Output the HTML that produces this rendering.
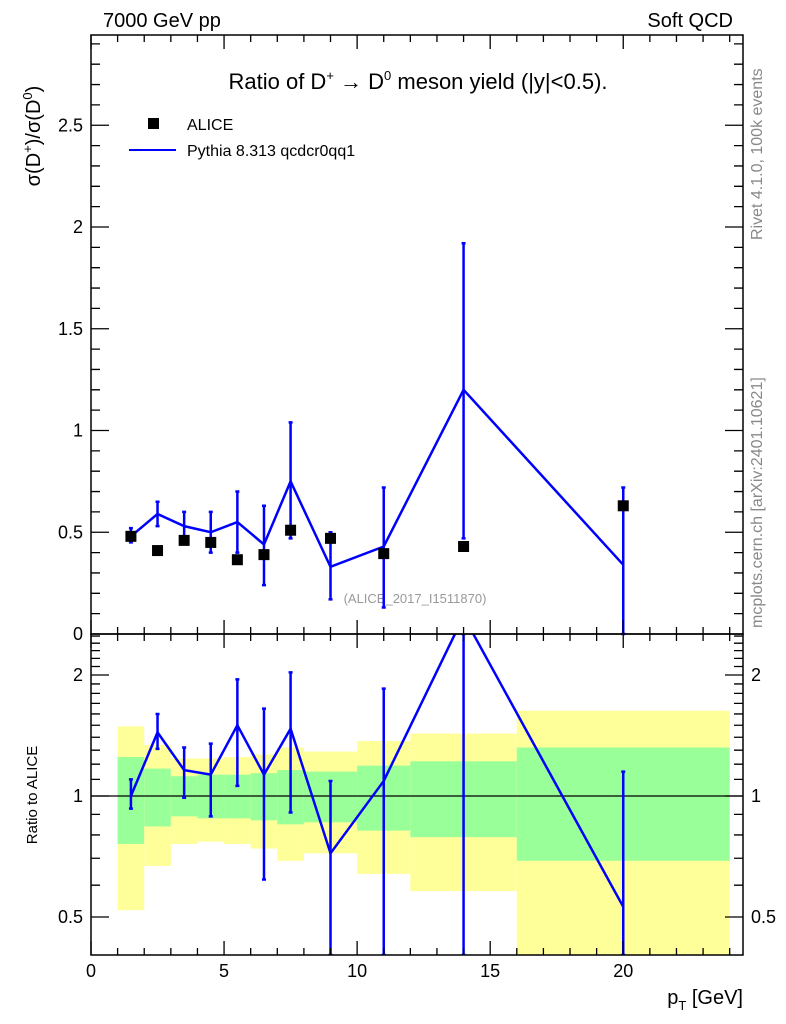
<!DOCTYPE html>
<html><head><meta charset="utf-8"><style>
body{margin:0;background:#fff;}
svg{display:block;font-family:"Liberation Sans",sans-serif;}
</style></head><body>
<svg id="c" width="786" height="1024" viewBox="0 0 786 1024">
<text x="103" y="27" font-size="20">7000 GeV pp</text>
<text x="733" y="27" font-size="20" text-anchor="end">Soft QCD</text>
<text x="418" y="89" font-size="22" text-anchor="middle">Ratio of D<tspan font-size="13" dy="-9">+</tspan><tspan dy="9"> → D</tspan><tspan font-size="13" dy="-9">0</tspan><tspan dy="9"> meson yield (|y|&lt;0.5).</tspan></text>
<g>
<rect x="148" y="118" width="11" height="11" fill="#000"/>
<text x="187" y="130" font-size="16">ALICE</text>
<line x1="129" y1="150" x2="176" y2="150" stroke="#00f" stroke-width="2"/>
<text x="187" y="156" font-size="16">Pythia 8.313 qcdcr0qq1</text>
</g>
<text x="415" y="603" font-size="13" fill="#999" text-anchor="middle">(ALICE_2017_I1511870)</text>
<text transform="translate(40,136) rotate(-90)" font-size="20" text-anchor="middle">σ(D<tspan font-size="13" dy="-8">+</tspan><tspan dy="8">)/σ(D</tspan><tspan font-size="13" dy="-8">0</tspan><tspan dy="8">)</tspan></text>
<text transform="translate(37,795) rotate(-90)" font-size="15" text-anchor="middle">Ratio to ALICE</text>
<text x="743" y="1004" font-size="20" text-anchor="end">p<tspan font-size="13" dy="6">T</tspan><tspan dy="-6"> [GeV]</tspan></text>
<text transform="translate(762,240) rotate(-90)" font-size="16" fill="#888">Rivet 4.1.0,  100k events</text>
<text transform="translate(762,628) rotate(-90)" font-size="16" fill="#888">mcplots.cern.ch [arXiv:2401.10621]</text>
<g id="bands"></g><g id="marks"></g><g id="axes"></g>
</svg>
<script>
const binEdges=[1,2,3,4,5,6,7,8,10,12,16,24];
const greenHi=[1.25,1.17,1.12,1.13,1.13,1.14,1.16,1.15,1.19,1.22,1.32];
const greenLo=[0.76,0.84,0.89,0.88,0.88,0.87,0.85,0.86,0.82,0.79,0.69];
const yellowHi=[1.49,1.34,1.24,1.24,1.25,1.27,1.32,1.29,1.37,1.43,1.63];
const yellowLo=[0.52,0.67,0.76,0.77,0.76,0.74,0.69,0.72,0.64,0.58,0.3];
const xPts=[1.5,2.5,3.5,4.5,5.5,6.5,7.5,9,11,14,20];
const aliceVal=[0.48,0.41,0.46,0.45,0.365,0.39,0.51,0.47,0.395,0.43,0.63];
const pyVal=[0.48,0.59,0.53,0.50,0.55,0.44,0.75,0.33,0.43,1.20,0.34];
const pyLo=[0.45,0.53,0.46,0.40,0.40,0.24,0.47,0.17,0.13,0.47,0];
const pyHi=[0.52,0.65,0.60,0.60,0.70,0.63,1.04,0.50,0.72,1.92,0.72];
const rVal=[1.0,1.44,1.16,1.13,1.5,1.13,1.47,0.72,1.09,2.8,0.53];
const rLo=[0.93,1.31,0.99,0.89,1.06,0.62,0.91,0.3,0.3,0.3,0.3];
const rHi=[1.1,1.6,1.32,1.35,1.95,1.65,2.03,1.09,1.85,3.5,1.15];
const mainTicks=[0.5,1,1.5,2,2.5];
const ratioTicks=[0.5,1,2];
const xTicks=[0,5,10,15,20];
const NS='http://www.w3.org/2000/svg';
const L=91,R=743,T=35,M=634,B=955;
const X=v=>L+(v)*(R-L)/24.5;
const Y=v=>M-v*203.5;
const Yr=v=>{let y=796-Math.log2(v)*121;return Math.max(M,Math.min(B,y));};
function el(p,t,a){const e=document.createElementNS(NS,t);for(const k in a)e.setAttribute(k,a[k]);p.appendChild(e);return e;}
const bands=document.getElementById('bands'),marks=document.getElementById('marks'),axes=document.getElementById('axes');
for(let i=0;i<greenHi.length;i++){
 const x1=X(binEdges[i]),x2=X(binEdges[i+1]);
 let e=el(bands,'rect',{x:x1,y:Yr(yellowHi[i]),width:x2-x1,height:Yr(yellowLo[i])-Yr(yellowHi[i]),fill:'#ffff99'});
 
 
 e=el(bands,'rect',{x:x1,y:Yr(greenHi[i]),width:x2-x1,height:Yr(greenLo[i])-Yr(greenHi[i]),fill:'#99ff99'});
 
 
}
let one=el(bands,'line',{x1:L,x2:R,y1:Yr(1),y2:Yr(1),stroke:'#000','stroke-width':1.3});


let d='';xPts.forEach((x,i)=>{d+=(i?'L':'M')+X(x)+','+Y(pyVal[i]);});
let pl=el(marks,'path',{d:d,fill:'none',stroke:'#00f','stroke-width':2.5});


xPts.forEach((x,i)=>{
 const e=el(marks,'path',{d:`M${X(x)},${Y(pyLo[i])}V${Y(pyHi[i])}M${X(x)-2},${Y(pyLo[i])}h4M${X(x)-2},${Y(pyHi[i])}h4`,stroke:'#00f','stroke-width':2.5,fill:'none'});
 
 
 const s=el(marks,'rect',{x:X(x)-5.5,y:Y(aliceVal[i])-5.5,width:11,height:11,fill:'#000'});
 
 
});
const clip=el(marks,'clipPath',{id:'rc'});el(clip,'rect',{x:L,y:M,width:R-L,height:B-M});
const rg=el(marks,'g',{'clip-path':'url(#rc)'});
d='';xPts.forEach((x,i)=>{d+=(i?'L':'M')+X(x)+','+(796-Math.log2(rVal[i])*121);});
let rl=el(rg,'path',{d:d,fill:'none',stroke:'#00f','stroke-width':2.5});


xPts.forEach((x,i)=>{
 const e=el(rg,'path',{d:`M${X(x)},${Yr(rLo[i])}V${Yr(rHi[i])}M${X(x)-2},${Yr(rLo[i])}h4M${X(x)-2},${Yr(rHi[i])}h4`,stroke:'#00f','stroke-width':2.5,fill:'none'});
 
 
});
el(axes,'rect',{x:L,y:T,width:R-L,height:M-T,fill:'none',stroke:'#000','stroke-width':1.5});
el(axes,'rect',{x:L,y:M,width:R-L,height:B-M,fill:'none',stroke:'#000','stroke-width':1.5});
let tk='';
for(let v=0;v<=24;v++){const big=v%5==0,h=big?14:7;tk+=`M${X(v)},${M}v${-h}M${X(v)},${T}v${h}M${X(v)},${B}v${-h}M${X(v)},${M}v${h}`;}
for(let v=0.1;v<2.95;v+=0.1){const big=Math.abs(v*2-Math.round(v*2))<1e-6,h=big?18:9;tk+=`M${L},${Y(v)}h${h}M${R},${Y(v)}h${-h}`;}
for(let v=0.4;v<2.55;v+=0.1){const big=ratioTicks.some(t=>Math.abs(t-v)<1e-6),h=big?18:9;const y=796-Math.log2(v)*121;if(y<M||y>B)continue;tk+=`M${L},${y}h${h}M${R},${y}h${-h}`;}
el(axes,'path',{d:tk,stroke:'#000','stroke-width':1.3,fill:'none'});
mainTicks.forEach(v=>{const t=el(axes,'text',{x:L-8,y:Y(v)+6,'font-size':18,'text-anchor':'end'});t.textContent=v;
 
 });
let z=el(axes,'text',{x:L-8,y:M+6,'font-size':18,'text-anchor':'end'});z.textContent='0';
ratioTicks.forEach(v=>{const y=796-Math.log2(v)*121;
 let t=el(axes,'text',{x:L-8,y:y+6,'font-size':18,'text-anchor':'end'});t.textContent=v;
 
 
 t=el(axes,'text',{x:R+8,y:y+6,'font-size':18});t.textContent=v;
 
 });
xTicks.forEach(v=>{const t=el(axes,'text',{x:X(v),y:977,'font-size':18,'text-anchor':'middle'});t.textContent=v;
 
 });
</script>
</body></html>
